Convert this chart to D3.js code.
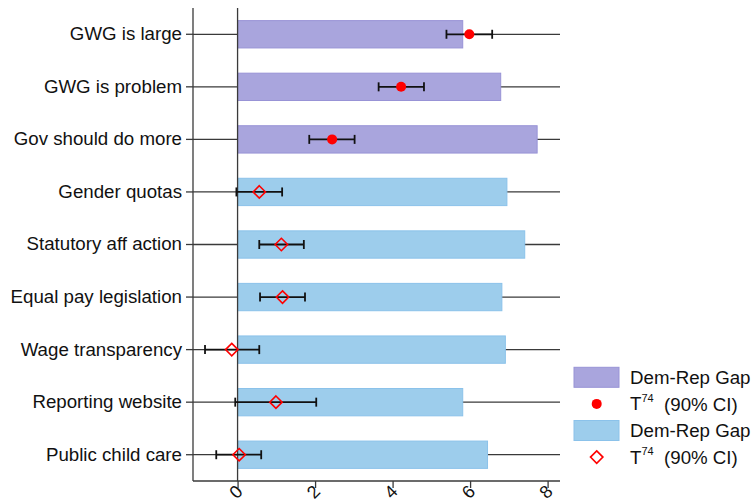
<!DOCTYPE html>
<html>
<head>
<meta charset="utf-8">
<script src="https://cdn.jsdelivr.net/npm/d3@7"></script>
<style>
  html, body { margin: 0; padding: 0; background: #fff; }
  svg { display: block; font-family: "Liberation Sans", Arial, sans-serif; }
</style>
</head>
<body>
<svg id="chart" width="755" height="502"></svg>
<script>
// Survey items, top to bottom
const categories = [
  "GWG is large", "GWG is problem", "Gov should do more",
  "Gender quotas", "Statutory aff action", "Equal pay legislation",
  "Wage transparency", "Reporting website", "Public child care"
];
// Which group each item belongs to (0 = attitudes, 1 = policies)
const groups = [0, 0, 0, 1, 1, 1, 1, 1, 1];
// Democrat minus Republican gap
const gap = [5.81, 6.79, 7.73, 6.95, 7.41, 6.82, 6.91, 5.81, 6.45];
// Treatment effect estimate and 90% confidence bounds
const effect = [5.98, 4.22, 2.44, 0.56, 1.13, 1.16, -0.15, 0.99, 0.04];
const ciLow  = [5.39, 3.64, 1.85, -0.03, 0.56, 0.58, -0.84, -0.06, -0.55];
const ciHigh = [6.57, 4.81, 3.02, 1.15, 1.71, 1.74, 0.56, 2.03, 0.61];
const xTicks = [0, 2, 4, 6, 8];

const rows = categories.map((c, i) => ({
  cat: c, group: groups[i], gap: gap[i], est: effect[i], lo: ciLow[i], hi: ciHigh[i]
}));

const barFill = ["#a9a5dd", "#9dcdec"];
const barEdge = ["#9893d6", "#8bc2ea"];

const svg = d3.select("#chart");
const plotLeft = 193, plotRight = 560, plotTop = 8, plotBottom = 481;

const x = d3.scaleLinear().domain([-1.15, 8.32]).range([plotLeft, plotRight]);
const y = d3.scaleBand().domain(categories).range([plotTop, plotBottom])
  .paddingInner(0.48).paddingOuter(0.24);
const yc = d => y(d) + y.bandwidth() / 2;

// Horizontal guide lines through each row
svg.append("g").selectAll("line").data(categories).join("line")
  .attr("x1", plotLeft).attr("x2", plotRight)
  .attr("y1", d => yc(d)).attr("y2", d => yc(d))
  .attr("stroke", "#3a3a3a").attr("stroke-width", 1.3);

// Gap bars
svg.append("g").selectAll("rect").data(rows).join("rect")
  .attr("x", x(0)).attr("y", d => y(d.cat))
  .attr("width", d => x(d.gap) - x(0)).attr("height", y.bandwidth())
  .attr("fill", d => barFill[d.group])
  .attr("stroke", d => barEdge[d.group]).attr("stroke-width", 1);

// Zero reference line
svg.append("line")
  .attr("x1", x(0)).attr("x2", x(0)).attr("y1", plotTop).attr("y2", plotBottom)
  .attr("stroke", "#3a3a3a").attr("stroke-width", 1.3);

// Confidence intervals
const ci = svg.append("g").attr("stroke", "#111").attr("stroke-width", 1.8);
ci.selectAll("line.span").data(rows).join("line").attr("class", "span")
  .attr("x1", d => x(d.lo)).attr("x2", d => x(d.hi))
  .attr("y1", d => yc(d.cat)).attr("y2", d => yc(d.cat));
ci.selectAll("line.capl").data(rows).join("line").attr("class", "capl")
  .attr("x1", d => x(d.lo)).attr("x2", d => x(d.lo))
  .attr("y1", d => yc(d.cat) - 4.5).attr("y2", d => yc(d.cat) + 4.5);
ci.selectAll("line.caph").data(rows).join("line").attr("class", "caph")
  .attr("x1", d => x(d.hi)).attr("x2", d => x(d.hi))
  .attr("y1", d => yc(d.cat) - 4.5).attr("y2", d => yc(d.cat) + 4.5);

// Point estimates: solid dots for attitudes, hollow diamonds for policies
const diamond = s => `M0,${-s}L${s},0L0,${s}L${-s},0Z`;
svg.append("g").selectAll("circle").data(rows.filter(d => d.group === 0)).join("circle")
  .attr("cx", d => x(d.est)).attr("cy", d => yc(d.cat)).attr("r", 5)
  .attr("fill", "#ff0000");
svg.append("g").selectAll("path").data(rows.filter(d => d.group === 1)).join("path")
  .attr("transform", d => `translate(${x(d.est)},${yc(d.cat)})`)
  .attr("d", diamond(6.2))
  .attr("fill", "none").attr("stroke", "#ff0000").attr("stroke-width", 1.6);

// Left axis
const gy = svg.append("g").attr("transform", `translate(${plotLeft},0)`)
  .call(d3.axisLeft(y).tickSize(7).tickPadding(4).tickSizeOuter(0));
gy.select(".domain").attr("stroke", "#3a3a3a").attr("stroke-width", 1.3)
  .attr("d", `M0,${plotTop}V${plotBottom}`);
gy.selectAll(".tick line").attr("stroke", "#3a3a3a").attr("stroke-width", 1.3);
gy.selectAll(".tick text").attr("font-size", "18.7px").attr("fill", "#111")
  .attr("font-family", "Liberation Sans, Arial, sans-serif");

// Bottom axis with slanted labels
const gx = svg.append("g").attr("transform", `translate(0,${plotBottom})`)
  .call(d3.axisBottom(x).tickValues(xTicks).tickSize(7).tickSizeOuter(0));
gx.select(".domain").attr("stroke", "#3a3a3a").attr("stroke-width", 1.3)
  .attr("d", `M${plotLeft},0H${plotRight}`);
gx.selectAll(".tick line").attr("stroke", "#3a3a3a").attr("stroke-width", 1.3);
gx.selectAll(".tick text")
  .attr("font-size", "18px").attr("fill", "#111")
  .attr("font-family", "Liberation Sans, Arial, sans-serif")
  .attr("text-anchor", "middle").attr("dy", null).attr("y", null)
  .attr("dominant-baseline", "central")
  .attr("transform", "translate(-2,11) rotate(-45)");

// Legend
const legend = svg.append("g").attr("font-size", "18.7px").attr("fill", "#111");
const legendRows = [
  { kind: "bar", group: 0, label: "Dem-Rep Gap" },
  { kind: "dot", label: "T" },
  { kind: "bar", group: 1, label: "Dem-Rep Gap" },
  { kind: "diamond", label: "T" }
];
legendRows.forEach((r, i) => {
  const cy = 377.3 + i * 26.6;
  if (r.kind === "bar") {
    legend.append("rect").attr("x", 574).attr("y", cy - 10).attr("width", 45).attr("height", 20)
      .attr("fill", barFill[r.group]).attr("stroke", barEdge[r.group]).attr("stroke-width", 1);
  } else if (r.kind === "dot") {
    legend.append("circle").attr("cx", 596.7).attr("cy", cy).attr("r", 5).attr("fill", "#ff0000");
  } else {
    legend.append("path").attr("transform", `translate(596.7,${cy})`).attr("d", diamond(6.2))
      .attr("fill", "none").attr("stroke", "#ff0000").attr("stroke-width", 1.6);
  }
  const t = legend.append("text").attr("x", 630).attr("y", cy).attr("dy", "0.35em");
  if (r.kind === "bar") {
    t.text(r.label);
  } else {
    t.append("tspan").text("T");
    t.append("tspan").attr("font-size", "11px").attr("dy", "-0.75em").text("74");
    t.append("tspan").attr("dy", "0.48em").text("\u00a0\u00a0(90% CI)");
  }
});
</script>
</body>
</html>
